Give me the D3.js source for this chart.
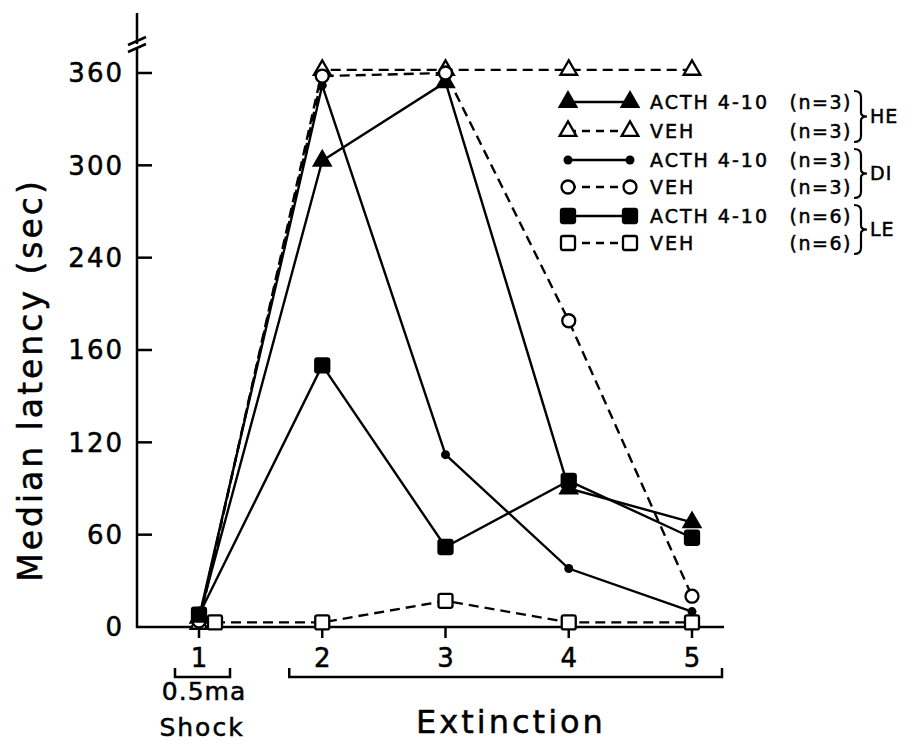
<!DOCTYPE html>
<html>
<head>
<meta charset="utf-8">
<script src="https://cdn.jsdelivr.net/npm/d3@7"></script>
<style>
  body { margin: 0; background: #fff; }
  svg { font-family: "DejaVu Sans", sans-serif; }
  text { stroke: #000; stroke-width: 0.5px; }
</style>
</head>
<body>
<svg id="chart" width="917" height="744"></svg>
<script>
// sessions (1 = 0.5 ma shock, 2-5 = extinction)
const sessions = [1, 2, 3, 4, 5];
const yTicks = [0, 60, 120, 180, 240, 300, 360];
const yTickLabels = ['0', '60', '120', '160', '240', '300', '360'];

// median latencies (sec) per group
const heActh = [6, 303, 354, 90, 68];
const heVeh = [2, 362, 362, 362, 362];
const diActh = [6, 352, 112, 38, 10];
const diVeh = [4, 358, 360, 199, 20];
const leActh = [8, 170, 52, 95, 58];
const leVeh = [3, 3, 17, 3, 3];

const legendLabels = ['ACTH 4-10', 'VEH', 'ACTH 4-10', 'VEH', 'ACTH 4-10', 'VEH'];
const legendN = ['(n=3)', '(n=3)', '(n=3)', '(n=3)', '(n=6)', '(n=6)'];
const groups = ['HE', 'DI', 'LE'];

const series = [
  { values: heActh, marker: 'tri', fill: true, dash: null },
  { values: heVeh, marker: 'tri', fill: false, dash: '10,6' },
  { values: diActh, marker: 'dot', fill: true, dash: null },
  { values: diVeh, marker: 'circle', fill: false, dash: '10,6' },
  { values: leActh, marker: 'square', fill: true, dash: null },
  { values: leVeh, marker: 'square', fill: false, dash: '10,6', dx: [16, 0, 0, 0, 0] }
];

const svg = d3.select('#chart');

const x = d3.scaleLinear().domain([1, 5]).range([199, 692]);
const y = d3.scaleLinear().domain([0, 360]).range([627, 73]);
const x0 = 137, xEnd = 724, yTop = 13;

let axes = svg.append('g').attr('class', 'axes');

// y axis line with break
axes.append('line').attr('x1', x0).attr('x2', x0).attr('y1', y(0) + 1).attr('y2', yTop)
  .attr('stroke', '#000').attr('stroke-width', 2.5);
axes.append('rect').attr('x', x0 - 4).attr('y', 44).attr('width', 8).attr('height', 5).attr('fill', '#fff');
[41, 48].forEach(b => {
  axes.append('line').attr('x1', x0 - 9).attr('y1', b + 4).attr('x2', x0 + 9).attr('y2', b - 4)
    .attr('stroke', '#000').attr('stroke-width', 2.5);
});

// y ticks
let yt = axes.selectAll('.ytick').data(yTicks).join('g').attr('class', 'ytick')
  .attr('transform', d => `translate(0,${y(d)})`);
yt.filter(d => d > 0).append('line').attr('x1', x0).attr('x2', x0 + 15)
  .attr('stroke', '#000').attr('stroke-width', 2.5);
yt.append('text').attr('x', x0 - 13).attr('dy', '0.36em').attr('text-anchor', 'end')
  .style('font-size', '26px').style('letter-spacing', '2px').text((d, i) => yTickLabels[i]);

// x axis
axes.append('line').attr('x1', x0 - 1).attr('x2', xEnd).attr('y1', y(0)).attr('y2', y(0))
  .attr('stroke', '#000').attr('stroke-width', 2.5);
let xt = axes.selectAll('.xtick').data(sessions).join('g').attr('class', 'xtick')
  .attr('transform', d => `translate(${x(d)},${y(0)})`);
xt.append('line').attr('y1', 0).attr('y2', 11).attr('stroke', '#000').attr('stroke-width', 2.5);
xt.append('text').attr('y', 40).attr('text-anchor', 'middle').style('font-size', '26px').text(d => d);

// brackets under sessions
const brackets = [[x(1) - 24, x(1) + 31], [x(2) - 33, x(5) + 30]];
brackets.forEach(b => {
  axes.append('path')
    .attr('d', `M${b[0]},668 V677 H${b[1]} V668`)
    .attr('fill', 'none').attr('stroke', '#000').attr('stroke-width', 2.5);
});
axes.append('text').attr('x', 204).attr('y', 700).attr('text-anchor', 'middle')
  .style('font-size', '25px').style('letter-spacing', '1px').text('0.5ma');
axes.append('text').attr('x', 202).attr('y', 736).attr('text-anchor', 'middle')
  .style('font-size', '25px').style('letter-spacing', '2px').text('Shock');
axes.append('text').attr('x', 511).attr('y', 733).attr('text-anchor', 'middle')
  .style('font-size', '32px').style('letter-spacing', '3px').text('Extinction');
axes.append('text').attr('transform', 'translate(42,380) rotate(-90)').attr('text-anchor', 'middle')
  .style('font-size', '33px').style('letter-spacing', '3px').text('Median latency (sec)');

// marker drawing
function drawMarker(g, s) {
  if (s.marker === 'tri') {
    g.append('path').attr('d', d3.symbol(d3.symbolTriangle, 120)())
      .attr('fill', s.fill ? '#000' : '#fff').attr('stroke', '#000').attr('stroke-width', 2.3);
  } else if (s.marker === 'dot') {
    g.append('circle').attr('r', 4.5).attr('fill', '#000');
  } else if (s.marker === 'circle') {
    g.append('circle').attr('r', 6.5).attr('fill', '#fff').attr('stroke', '#000').attr('stroke-width', 2.3);
  } else {
    g.append('rect').attr('x', -7).attr('y', -7).attr('width', 14).attr('height', 14).attr('rx', 2)
      .attr('fill', s.fill ? '#000' : '#fff').attr('stroke', '#000').attr('stroke-width', 2.3);
  }
}

let plot = svg.append('g').attr('class', 'plot');
const line = d3.line().x(d => d.px).y(d => d.py);

series.forEach(s => {
  const pts = s.values.map((v, i) => ({ px: x(sessions[i]) + (s.dx ? s.dx[i] : 0), py: y(v) }));
  plot.append('path').datum(pts).attr('d', line)
    .attr('fill', 'none').attr('stroke', '#000').attr('stroke-width', 2.4)
    .attr('stroke-dasharray', s.dash);
});
series.forEach(s => {
  const pts = s.values.map((v, i) => ({ px: x(sessions[i]) + (s.dx ? s.dx[i] : 0), py: y(v) }));
  plot.selectAll(null).data(pts).join('g')
    .attr('transform', d => `translate(${d.px},${d.py})`)
    .each(function () { drawMarker(d3.select(this), s); });
});

// legend
let legend = svg.append('g').attr('class', 'legend');
const rowY = [102, 131, 160, 187, 216, 243];
series.forEach((s, i) => {
  let row = legend.append('g').attr('transform', `translate(0,${rowY[i]})`);
  row.append('line').attr('x1', 568).attr('x2', 630)
    .attr('stroke', '#000').attr('stroke-width', 2.4).attr('stroke-dasharray', s.dash ? '8,6' : null);
  [568, 630].forEach(px => drawMarker(row.append('g').attr('transform', `translate(${px},0)`), s));
  row.append('text').attr('x', 650).attr('dy', '0.36em').style('font-size', '19px')
    .style('letter-spacing', '2px').text(legendLabels[i]);
  row.append('text').attr('x', 852).attr('dy', '0.36em').attr('text-anchor', 'end')
    .style('font-size', '19px').style('letter-spacing', '1.5px').text(legendN[i]);
});
groups.forEach((g, i) => {
  const top = rowY[i * 2] - 11, bot = rowY[i * 2 + 1] + 11, mid = (top + bot) / 2;
  legend.append('path')
    .attr('d', `M854,${top} Q861,${top} 861,${top + 6} V${mid - 4} Q861,${mid} 867,${mid} Q861,${mid} 861,${mid + 4} V${bot - 6} Q861,${bot} 854,${bot}`)
    .attr('fill', 'none').attr('stroke', '#000').attr('stroke-width', 2.2);
  legend.append('text').attr('x', 870).attr('y', mid).attr('dy', '0.36em')
    .style('font-size', '19px').style('letter-spacing', '1px').text(g);
});
</script>
</body>
</html>
